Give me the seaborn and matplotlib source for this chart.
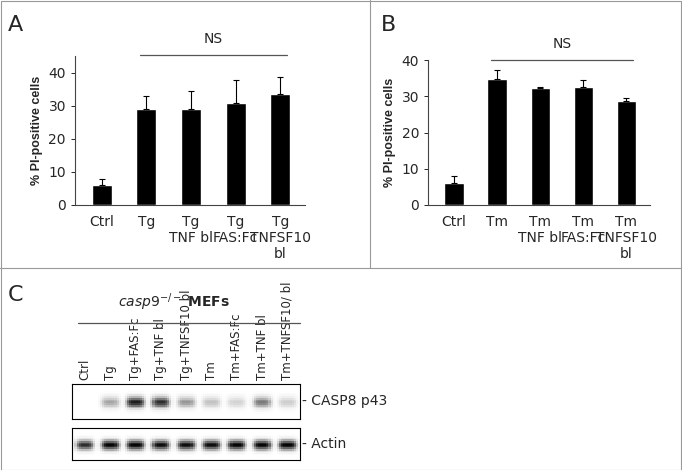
import numpy as np
import pandas as pd
import matplotlib.pyplot as plt
import seaborn as sns
from matplotlib.lines import Line2D
from matplotlib.patches import Rectangle

# panel A / B data
groups_a = ['Ctrl', 'Tg\n', 'Tg\nTNF bl', 'Tg\nFAS:Fc', 'Tg\nTNFSF10\nbl']
vals_a = [6.0, 29.0, 29.2, 30.9, 33.5]
err_a = [2.0, 4.0, 5.4, 7.0, 5.2]
groups_b = ['Ctrl', 'Tm\n', 'Tm\nTNF bl', 'Tm\nFAS:Fc', 'Tm\nTNFSF10\nbl']
vals_b = [6.0, 34.7, 32.3, 32.6, 28.8]
err_b = [2.0, 2.6, 0.2, 1.8, 0.8]

# panel C blot band intensities (0..1)
lanes = ['Ctrl', 'Tg', 'Tg+FAS:Fc', 'Tg+TNF bl', 'Tg+TNFSF10 bl',
         'Tm', 'Tm+FAS:Fc', 'Tm+TNF bl', 'Tm+TNFSF10/ bl']
casp8 = [0.0, 0.45, 0.9, 0.85, 0.5, 0.35, 0.28, 0.6, 0.3]
actin = [0.85, 0.98, 0.98, 0.95, 0.95, 0.95, 0.98, 0.98, 0.98]

NARROW = 'Liberation Sans Narrow'
sns.set_style('white')
plt.rcParams.update({'font.family': 'Liberation Sans', 'font.size': 9})
fig = plt.figure(figsize=(6.82, 4.70), dpi=100)


def bar_panel(rect, groups, vals, errs, ylim, yticks, ns_y):
    ax = fig.add_axes(rect)
    df = pd.DataFrame({'g': groups, 'v': vals})
    sns.barplot(data=df, x='g', y='v', color='black', width=0.45,
                saturation=1, ax=ax)
    ax.errorbar(range(len(vals)), vals, yerr=[np.zeros(len(errs)), errs],
                fmt='none', ecolor='black', elinewidth=0.8, capsize=2.5,
                capthick=0.8)
    ax.set_ylim(*ylim)
    ax.set_xlim(-0.6, len(vals) - 0.45)
    ax.set_yticks(yticks)
    ax.set_xlabel('')
    ax.set_ylabel('% PI-positive cells', fontweight='bold', fontsize=9)
    for s in ['top', 'right']:
        ax.spines[s].set_visible(False)
    ax.spines['left'].set_color('#444')
    ax.spines['bottom'].set_color('#444')
    ax.tick_params(axis='y', left=True, length=3, width=0.7)
    ax.tick_params(axis='x', bottom=False)
    for lab in ax.get_xticklabels() + ax.get_yticklabels():
        lab.set_fontfamily(NARROW)
        lab.set_fontsize(10)
    ax.plot([0.85, 4.15], [ns_y, ns_y], color='#555', lw=0.9, clip_on=False)
    ax.text(2.5, ns_y + 2.5, 'NS', ha='center', va='bottom', fontsize=10,
            fontfamily=NARROW)
    return ax


bar_panel([0.11, 0.564, 0.337, 0.316], groups_a, vals_a, err_a,
          (0, 45), [0, 10, 20, 30, 40], 45.5)
bar_panel([0.628, 0.564, 0.325, 0.308], groups_b, vals_b, err_b,
          (0, 40), [0, 10, 20, 30, 40], 40)


def blot(rect, intens, label):
    ax = fig.add_axes(rect)
    rows, w = 20, 12
    prof = np.exp(-((np.arange(rows) - rows / 2) / (rows / 6)) ** 2)
    lane_prof = np.exp(-((np.arange(w) - (w - 1) / 2) / (w / 2.6)) ** 4)
    img = np.outer(prof, np.kron(intens, lane_prof))
    sns.heatmap(img, cmap='Greys', vmin=0, vmax=1, cbar=False, ax=ax,
                xticklabels=False, yticklabels=False)
    for s in ax.spines.values():
        s.set_visible(True)
        s.set_color('black')
        s.set_linewidth(0.8)
    ax.text(1.01, 0.5, '- ' + label, transform=ax.transAxes, va='center',
            ha='left', fontsize=10, fontfamily=NARROW)
    return ax


ax_c = blot([0.106, 0.109, 0.334, 0.074], casp8, 'CASP8 p43')
blot([0.106, 0.021, 0.334, 0.068], actin, 'Actin')
for i, name in enumerate(lanes):
    ax_c.text((i + 0.5) / len(lanes), 1.12, name, transform=ax_c.transAxes,
              rotation=90, ha='center', va='bottom', fontsize=8.5,
              fontfamily=NARROW)

# casp9 header
fig.text(0.255, 0.335, r'$\it{casp9}^{-/-}$ MEFs', ha='center', va='bottom',
         fontsize=10, fontweight='bold', fontfamily=NARROW)
fig.add_artist(Line2D([0.114, 0.44], [0.313, 0.313], color='#555', lw=0.9))

# panel letters and frames
fig.text(0.012, 0.935, 'A', fontsize=16, fontfamily=NARROW)
fig.text(0.558, 0.935, 'B', fontsize=16, fontfamily=NARROW)
fig.text(0.012, 0.36, 'C', fontsize=16, fontfamily=NARROW)
fg = '#999'
fig.add_artist(Rectangle((0.001, 0.001), 0.997, 0.997, fill=False,
                         ec=fg, lw=0.8, transform=fig.transFigure))
fig.add_artist(Line2D([0, 1], [0.43, 0.43], color=fg, lw=0.8))
fig.add_artist(Line2D([0.543, 0.543], [0.43, 1], color=fg, lw=0.8))

fig.savefig('out.png', dpi=100)
